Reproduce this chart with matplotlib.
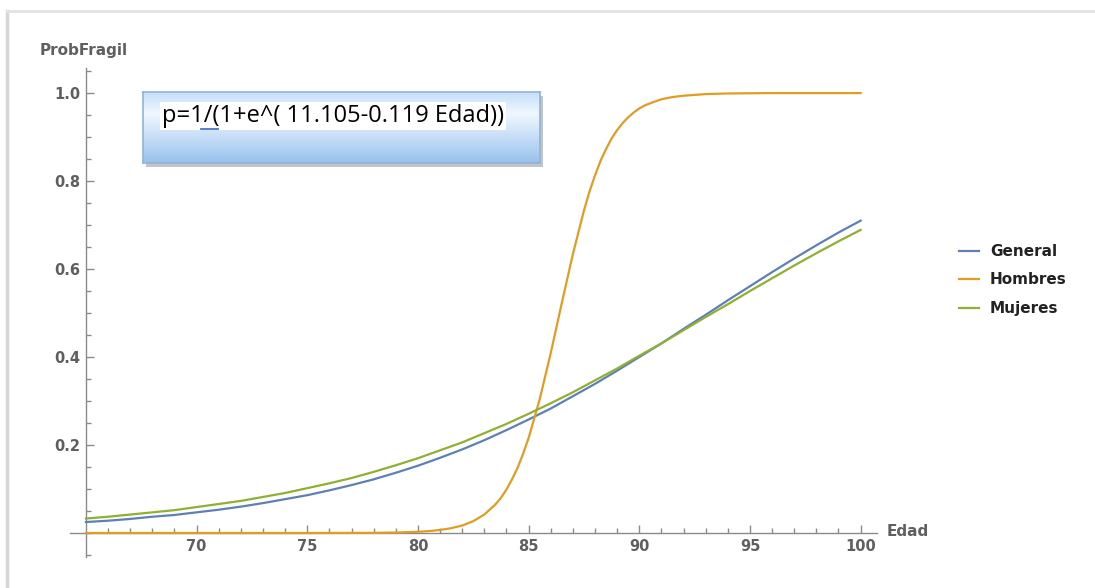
import matplotlib.pyplot as plt
import numpy as np
from matplotlib.patches import Rectangle
from matplotlib.lines import Line2D

plt.rcParams['font.family'] = ['DejaVu Sans']

# edades (eje x)
edad = [65, 66, 67, 68, 69, 70, 71, 72, 73, 74, 75, 76, 77, 78, 79, 80, 81, 82,
        83, 84, 85, 86, 87, 88, 89, 90, 91, 92, 93, 94, 95, 96, 97, 98, 99, 100]

general = [0.025, 0.028, 0.032, 0.037, 0.041, 0.047, 0.053, 0.060, 0.068, 0.077,
           0.086, 0.097, 0.109, 0.122, 0.137, 0.153, 0.171, 0.190, 0.211, 0.234,
           0.258, 0.283, 0.311, 0.339, 0.369, 0.400, 0.431, 0.464, 0.496, 0.529,
           0.561, 0.593, 0.624, 0.654, 0.683, 0.710]

mujeres = [0.033, 0.037, 0.042, 0.047, 0.052, 0.059, 0.066, 0.073, 0.082, 0.091,
           0.102, 0.113, 0.125, 0.139, 0.154, 0.170, 0.188, 0.206, 0.227, 0.248,
           0.271, 0.295, 0.320, 0.347, 0.374, 0.403, 0.431, 0.461, 0.491, 0.520,
           0.550, 0.579, 0.608, 0.636, 0.663, 0.689]

# hombres: curva muy empinada, leida con mas detalle en la subida
edad_h = [65, 70, 75, 78, 79, 80, 80.5, 81, 81.5, 82, 82.5, 83, 83.5, 83.75, 84,
          84.25, 84.5, 84.75, 85, 85.5, 86, 86.5, 87, 87.5, 87.75, 88, 88.25, 88.5,
          88.75, 89, 89.25, 89.5, 89.75, 90, 90.25, 90.5, 91, 91.5, 92, 93, 94,
          96, 100]
hombres = [0.0, 0.0, 0.0, 0.0004, 0.0011, 0.0028, 0.0044, 0.0069, 0.011, 0.017,
           0.027, 0.042, 0.065, 0.080, 0.099, 0.122, 0.148, 0.180, 0.216, 0.304,
           0.409, 0.523, 0.634, 0.733, 0.776, 0.813, 0.846, 0.873, 0.897, 0.916,
           0.932, 0.945, 0.956, 0.965, 0.972, 0.977, 0.986, 0.991, 0.994, 0.9977,
           0.9991, 1.0, 1.0]

xticks = [70, 75, 80, 85, 90, 95, 100]
yticks = [0.2, 0.4, 0.6, 0.8, 1.0]

W, H = 1095, 588
fig = plt.figure(figsize=(W / 100, H / 100), dpi=100)

def fx(px):
    return px / W

def fy(py):
    return 1 - py / H

# marco gris de la captura
fig.add_artist(Line2D([fx(7), fx(7)], [fy(11), 0], color='#d6d6d6', lw=2.5))
fig.add_artist(Line2D([fx(7), 1], [fy(11), fy(11)], color='#e2e2e2', lw=2))

ax = fig.add_axes([fx(70), fy(557), fx(877) - fx(70), fy(68) - fy(557)])
ax.patch.set_visible(False)
ax.set_zorder(0)
ax.set_xlim(64.28, 100.74)
ax.set_ylim(-0.0545, 1.057)

axis_col = '#8a8a8a'
lab_col = '#5f5f5f'

ax.plot(edad, general, color='#5E81B5', lw=1.6, label='General', zorder=3)
ax.plot(edad_h, hombres, color='#E19C24', lw=1.6, label='Hombres', zorder=3)
ax.plot(edad, mujeres, color='#8FB032', lw=1.6, label='Mujeres', zorder=3)

for s in ['top', 'right']:
    ax.spines[s].set_visible(False)
ax.spines['left'].set_position(('data', 65))
ax.spines['bottom'].set_position(('data', 0))
for s in ['left', 'bottom']:
    ax.spines[s].set_color(axis_col)
    ax.spines[s].set_linewidth(1.0)

ax.set_xticks(xticks)
ax.set_xticks(np.arange(66, 101, 1), minor=True)
ax.set_yticks(yticks)
ax.set_yticks(np.arange(-0.05, 1.06, 0.05), minor=True)
ax.set_xticklabels([str(t) for t in xticks])
ax.set_yticklabels([f'{t:.1f}' for t in yticks])
ax.tick_params(which='both', direction='in', color=axis_col, width=1.0)
ax.tick_params(which='major', length=6, labelsize=10.5, labelcolor=lab_col, pad=4)
ax.tick_params(which='minor', length=3.5)
for lbl in ax.get_xticklabels() + ax.get_yticklabels():
    lbl.set_fontweight('bold')

fig.text(fx(40), fy(51), 'ProbFragil', fontsize=11, fontweight='bold',
         color=lab_col, va='center', ha='left')
fig.text(fx(887), fy(531), 'Edad', fontsize=11, fontweight='bold',
         color=lab_col, va='center', ha='left')

leg = ax.legend(loc='center left', bbox_to_anchor=(fx(951), fy(280)),
                bbox_transform=fig.transFigure, frameon=False,
                prop={'weight': 'bold', 'size': 11}, handlelength=1.3,
                handletextpad=0.75, labelspacing=0.88, borderpad=0)
for t in leg.get_texts():
    t.set_color('#222222')

# cuadro con la formula
bx0, by0, bx1, by1 = 143, 92, 540, 163
shadow = Rectangle((fx(bx0 + 3), fy(by1 + 4)), fx(bx1 - bx0), fy(by0) - fy(by1),
                   transform=fig.transFigure, facecolor='#c4c4c4',
                   edgecolor='none', zorder=1)
fig.add_artist(shadow)
bax = fig.add_axes([fx(bx0), fy(by1), fx(bx1 - bx0), fy(by0) - fy(by1)])
bax.set_zorder(3)
c_top = np.array([0.78, 0.87, 0.97])
c_mid = np.array([0.94, 0.97, 1.00])
c_bot = np.array([0.60, 0.76, 0.93])
rows = []
for g in np.linspace(0, 1, 100):
    if g < 0.3:
        c = c_top + (c_mid - c_top) * (g / 0.3)
    else:
        c = c_mid + (c_bot - c_mid) * ((g - 0.3) / 0.7)
    rows.append(c)
img = np.array(rows)[:, None, :].repeat(10, axis=1)
bax.imshow(img, aspect='auto', extent=(0, 1, 0, 1), origin='upper')
bax.set_xticks([])
bax.set_yticks([])
for s in bax.spines.values():
    s.set_color('#8fb3dc')
    s.set_linewidth(1.2)

fig.text(fx(162), fy(116), 'p=1/(1+e^( 11.105-0.119 Edad))', fontsize=17,
         family='Open Sans', color='black', va='center', ha='left',
         bbox=dict(facecolor='white', edgecolor='none', pad=1.5), zorder=5)
fig.add_artist(Line2D([fx(201), fx(218)], [fy(129), fy(129)], color='#4a74c9',
                      lw=1.3, zorder=6))

fig.savefig('out.png', dpi=100)
